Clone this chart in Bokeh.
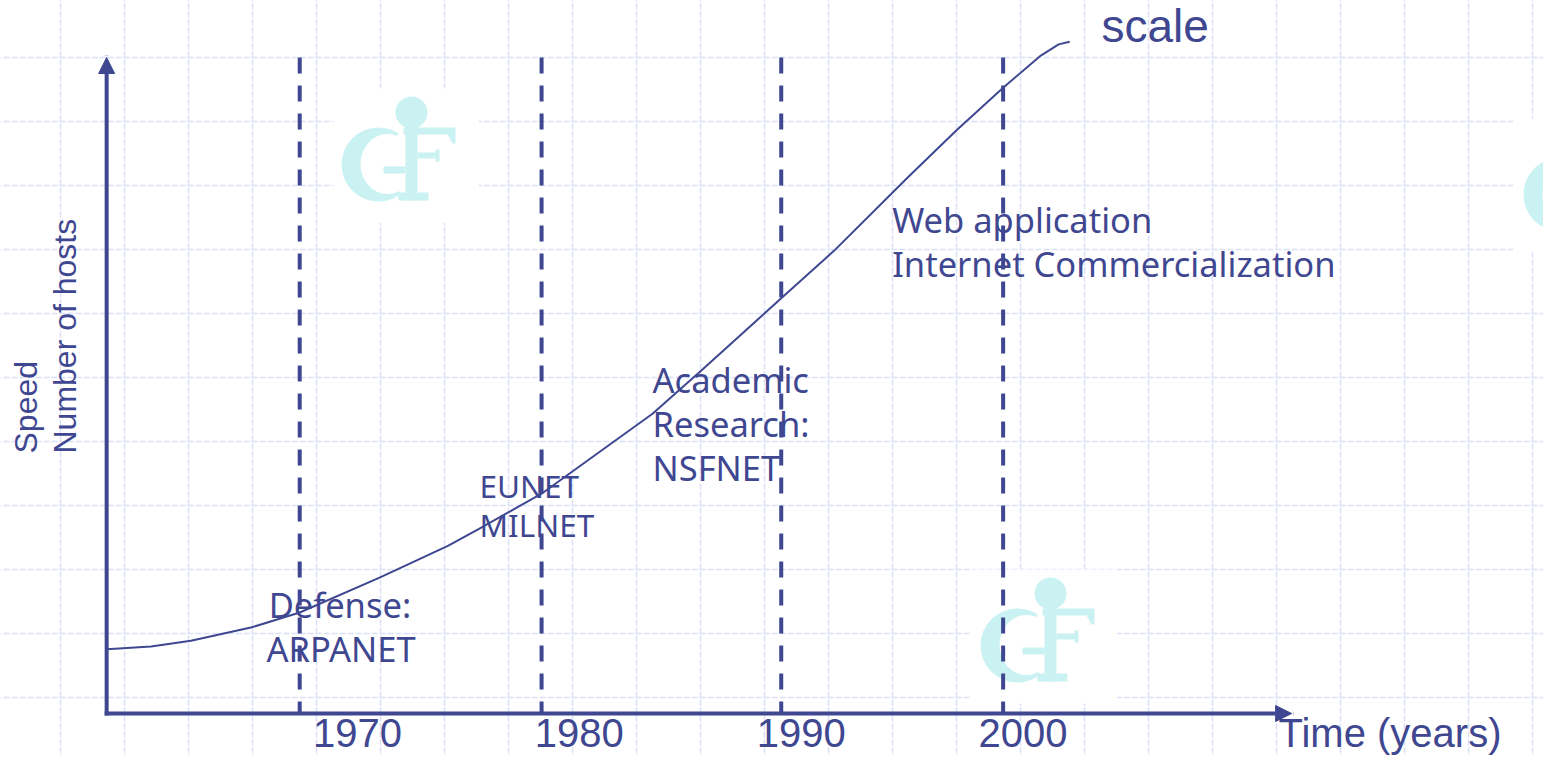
import numpy as np
from bokeh.plotting import figure
from bokeh.models import Range1d, Arrow, NormalHead
from bokeh.core.properties import value
from bokeh.embed import file_html
from bokeh.resources import INLINE

# ---------------- data (years / relative host count 0..100) ----------------
curve_years = [1958.7, 1960.7, 1962.5, 1965.2, 1967.4, 1971.0, 1974.1, 1975.5,
               1978.3, 1981.0, 1983.3, 1985.5, 1989.1, 1991.5, 1994.8, 1997.0,
               1999.1, 2000.8, 2001.6, 2002.1]
curve_hosts = [9.8, 10.2, 11.1, 13.1, 15.4, 20.7, 25.6, 28.2,
               33.5, 40.1, 45.7, 52.3, 63.3, 70.6, 81.7, 88.9,
               95.4, 100.3, 102.0, 102.4]
era_years = [1967.4, 1978.3, 1989.1, 1999.1]
tick_years = [1970, 1980, 1990, 2000]
tick_labels = ["1970", "1980", "1990", "2000"]

era_text = ["Defense:", "ARPANET", "Academic", "Research:", "NSFNET",
            "Web application", "Internet Commercialization"]
era_text_x = [1966.0, 1965.9, 1983.3, 1983.3, 1983.3, 1994.1, 1994.1]
era_text_y = [14.6, 7.8, 48.9, 42.1, 35.4, 73.3, 66.5]
small_text = ["EUNET", "MILNET"]
small_text_x = [1975.5, 1975.5]
small_text_y = [32.9, 27.0]

axis_origin_year = 1958.7
axis_end_year = 2012.1
axis_top = 100.0

# ---------------- layout helpers (canvas pixels -> data) ----------------
PX_1970 = 356.9
PX_PER_YEAR = 22.19
PY_ZERO = 713.0
PX_PER_UNIT = 6.56

def X(px):
    return 1970 + (px - PX_1970) / PX_PER_YEAR

def Y(py):
    return (PY_ZERO - py) / PX_PER_UNIT

# renderer places "alphabetic" text about half the font box too low
LIB_K = 0.3465   # Liberation Sans (ascent - descent) / 2
NOTO_K = 0.388   # Noto Sans

NAVY = "#3F4791"
LOGO = "#CBF2F2"
GRID = "#D9E0F8"

W, H = 1543, 756
p = figure(width=W, height=H, output_backend="svg", toolbar_location=None,
           x_range=Range1d(X(0), X(W)), y_range=Range1d(Y(H), Y(0)),
           x_axis_location=None, y_axis_location=None, min_border=0,
           background_fill_color="white", border_fill_color="white")
p.outline_line_color = None
p.xgrid.visible = False
p.ygrid.visible = False

# background slide grid
gx = [X(v) for v in range(60, W, 64)]
gy = [Y(v) for v in range(57, H, 64)]
p.segment(x0=gx, x1=gx, y0=[Y(-5)] * len(gx), y1=[Y(H + 5)] * len(gx),
          line_color=GRID, line_width=1.5, line_dash="6 2")
p.segment(x0=[X(-5)] * len(gy), x1=[X(W + 5)] * len(gy), y0=gy, y1=gy,
          line_color=GRID, line_width=1.5, line_dash="6 2")

# logos (relative to the ball centre, in canvas pixels)
def logo(bx, by):
    def q(l, r, t, b, color=LOGO):
        p.quad(left=[X(bx + l)], right=[X(bx + r)], top=[Y(by + t)],
               bottom=[Y(by + b)], fill_color=color, line_color=None)
    q(-79, 67, -24, 110, "white")
    gcx, gcy = X(bx - 33), Y(by + 52)
    p.circle(x=[gcx], y=[gcy], radius=37, radius_units="screen",
             fill_color=LOGO, line_color=None)
    p.ellipse(x=[X(bx - 24)], y=[Y(by + 51.5)], width=54, height=60,
              width_units="screen", height_units="screen",
              fill_color="white", line_color=None)
    p.wedge(x=[gcx], y=[gcy], radius=39, radius_units="screen",
            start_angle=-52, end_angle=57, start_angle_units="deg",
            end_angle_units="deg", fill_color="white", line_color=None)
    q(-6, 6, 14, 88)          # stem
    p.patch(x=[X(bx + v) for v in (-8, 44, 44, 41, 36, -8)],
            y=[Y(by + v) for v in (15, 15, 31, 31, 22, 22)],
            fill_color=LOGO, line_color=None)
    q(6, 27, 40, 46)          # F middle bar
    q(24, 28, 37, 49)
    q(-28, -6, 54, 61)        # G crossbar
    q(-13, 17, 80, 88)        # bottom serif
    p.circle(x=[X(bx)], y=[Y(by)], radius=16, radius_units="screen",
             fill_color=LOGO, line_color=None)

logo(411, 112)
logo(1050, 593)
logo(1593, 142)

# era separators
p.segment(x0=era_years, x1=era_years, y0=[axis_top] * 4, y1=[0] * 4,
          line_color=NAVY, line_width=4, line_dash="16 12")

# growth curve
p.line(curve_years, curve_hosts, line_color=NAVY, line_width=2)

# axes as arrows
p.add_layout(Arrow(end=NormalHead(size=16, fill_color=NAVY, line_color=NAVY),
                   x_start=axis_origin_year, y_start=0, x_end=axis_origin_year,
                   y_end=axis_top, line_color=NAVY, line_width=4,
                   line_cap="square"))
p.add_layout(Arrow(end=NormalHead(size=16, fill_color=NAVY, line_color=NAVY),
                   x_start=axis_origin_year, y_start=0, x_end=axis_end_year,
                   y_end=0, line_color=NAVY, line_width=4, line_cap="square"))

# texts (y given as the desired baseline, corrected for the renderer)
def txt(x, y_px_base, text, font, size, k, align="left"):
    p.text(x=x, y=[Y(b - k * size) for b in y_px_base], text=text,
           text_font=value(font), text_font_size=value(f"{size}px"),
           text_color=NAVY, text_align=align, text_baseline="alphabetic")

TICK = 40
txt(tick_years, [746] * 4, tick_labels, "Liberation Sans", TICK, LIB_K, "center")
txt([X(1278)], [746], ["Time (years)"], "Liberation Sans", TICK, LIB_K)
txt([X(1101)], [41], ["scale"], "Liberation Sans", 46, LIB_K)

YL = 32
p.text(x=[X(37 - LIB_K * YL), X(76 - LIB_K * YL)], y=[Y(453), Y(453)],
       text=["Speed", "Number of hosts"], angle=np.pi / 2,
       text_font=value("Liberation Sans"), text_font_size=value(f"{YL}px"),
       text_color=NAVY, text_align="left", text_baseline="alphabetic")

ERA = 34.5
p.text(x=era_text_x, y=[v + NOTO_K * ERA / PX_PER_UNIT for v in era_text_y],
       text=era_text, text_font=value("Noto Sans"),
       text_font_size=value(f"{ERA}px"), text_color=NAVY,
       text_align="left", text_baseline="alphabetic")
SM = 31.5
p.text(x=small_text_x, y=[v + NOTO_K * SM / PX_PER_UNIT for v in small_text_y],
       text=small_text, text_font=value("Noto Sans"),
       text_font_size=value(f"{SM}px"), text_color=NAVY,
       text_align="left", text_baseline="alphabetic")

open("out.html", "w").write(file_html(p, INLINE))
